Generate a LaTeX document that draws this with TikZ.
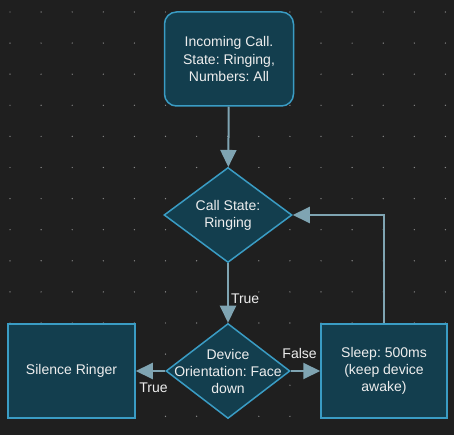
\documentclass[tikz,border=0pt]{standalone}
\usepackage{fontspec}
\setmainfont{Liberation Sans}
\usepackage{tikz}
\usetikzlibrary{shapes.geometric, arrows.meta, positioning}
\usepackage{xcolor}
\frenchspacing

\definecolor{bgdark}{HTML}{1F1F1F}
\definecolor{griddot}{HTML}{8A8A8A}
\definecolor{nodefill}{HTML}{133E4E}
\definecolor{nodeline}{HTML}{3A9CC4}
\definecolor{flowline}{HTML}{7FA4B2}
\definecolor{labeltext}{HTML}{EEEEEE}

\begin{document}
\begin{tikzpicture}[
  x=1pt, y=-1pt,
  box/.style={rectangle, draw=nodeline, fill=nodefill, line width=1.5pt, minimum width=127pt, minimum height=94pt, align=center, text=labeltext, font=\fontsize{14}{17}\selectfont},
  startbox/.style={box, rounded corners=12pt, minimum width=129pt},
  decision/.style={diamond, draw=nodeline, fill=nodefill, line width=1.5pt, inner sep=0pt, minimum width=#1, minimum height=95pt},
  inside/.style={align=center, text=labeltext, font=\fontsize{14}{17}\selectfont},
  flow/.style={-{Triangle[length=17pt, width=16pt]}, line width=2pt, draw=flowline},
  tag/.style={text=labeltext, font=\fontsize{14}{16}\selectfont, inner sep=2pt}
]
  % background and dot grid
  \fill[bgdark] (0,0) rectangle (454,435);
  \foreach \i in {0,...,14}
    \foreach \j in {0,...,13}
      \fill[griddot] (10+31.1*\i, 12+31.1*\j) circle (0.7pt);

  \node[startbox] (call) at (229,59) {Incoming Call.\\State: Ringing,\\Numbers: All};
  \node[decision=128pt, label={[inside]center:Call State:\\Ringing}] (ringing) at (228,215) {};
  \node[decision=124pt, label={[inside]center:Device\\Orientation: Face\\down}] (facedown) at (228,371) {};
  \node[box] (silence) at (71.5,371) {Silence Ringer};
  \node[box, minimum width=126pt] (sleep) at (384,371) {Sleep: 500ms\\(keep device\\awake)};

  \draw[flow] (call) -- (ringing);
  \draw[flow] (ringing) -- node[tag, right, pos=0.6] {True} (facedown);
  \draw[flow] (facedown) -- node[tag, below=9pt, pos=0.4] {True} (silence);
  \draw[flow] (facedown) -- node[tag, above=9pt, pos=0.3] {False} (sleep);
  \draw[flow] (sleep) |- (ringing);
\end{tikzpicture}
\end{document}
